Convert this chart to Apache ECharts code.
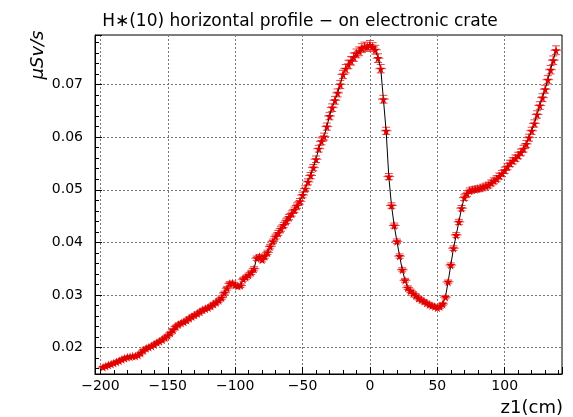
<!DOCTYPE html>
<html>
<head>
<meta charset="utf-8">
<script src="https://cdn.jsdelivr.net/npm/echarts@6/dist/echarts.min.js"></script>
<style>
  html, body { margin: 0; padding: 0; background: #fff; }
  #main { width: 573px; height: 417px; }
</style>
</head>
<body>
<div id="main"></div>
<script>
// z1 position (cm)
var zPos = [
  -198, -196, -194, -192, -190, -188, -186, -184, -182, -180,
  -178, -176, -174, -172, -170, -168, -166, -164, -162, -160,
  -158, -156, -154, -152, -150, -148, -146, -144, -142, -140,
  -138, -136, -134, -132, -130, -128, -126, -124, -122, -120,
  -118, -116, -114, -112, -110, -108, -106, -104, -102, -100,
  -98, -96, -94, -92, -90, -88, -86, -84, -82, -80,
  -78, -76, -74, -72, -70, -68, -66, -64, -62, -60,
  -58, -56, -54, -52, -50, -48, -46, -44, -42, -40,
  -38, -36, -34, -32, -30, -28, -26, -24, -22, -20,
  -18, -16, -14, -12, -10, -8, -6, -4, -2, 0,
  2, 4, 6, 8, 10, 12, 14, 16, 18, 20,
  22, 24, 26, 28, 30, 32, 34, 36, 38, 40,
  42, 44, 46, 48, 50, 52, 54, 56, 58, 60,
  62, 64, 66, 68, 70, 72, 74, 76, 78, 80,
  82, 84, 86, 88, 90, 92, 94, 96, 98, 100,
  102, 104, 106, 108, 110, 112, 114, 116, 118, 120,
  122, 124, 126, 128, 130, 132, 134, 136, 138
];

// H*(10) dose rate (uSv/s)
var doseRate = [
  0.0163, 0.0165, 0.0167, 0.0169, 0.0171, 0.0173, 0.0175, 0.0178, 0.0180, 0.0182,
  0.0183, 0.0184, 0.0184, 0.0186, 0.0190, 0.0195, 0.0199, 0.0201, 0.0203, 0.0206,
  0.0210, 0.0212, 0.0215, 0.0219, 0.0223, 0.0228, 0.0234, 0.0240, 0.0244, 0.0247,
  0.0249, 0.0252, 0.0256, 0.0259, 0.0262, 0.0265, 0.0268, 0.0272, 0.0274, 0.0276,
  0.0279, 0.0283, 0.0286, 0.0290, 0.0295, 0.0304, 0.0313, 0.0322, 0.0323, 0.0319,
  0.0317, 0.0318, 0.0330, 0.0334, 0.0338, 0.0343, 0.0350, 0.0370, 0.0373, 0.0367,
  0.0374, 0.0381, 0.0392, 0.0402, 0.0411, 0.0418, 0.0426, 0.0433, 0.0441, 0.0448,
  0.0455, 0.0462, 0.0470, 0.0478, 0.0490, 0.0502, 0.0515, 0.0527, 0.0542, 0.0558,
  0.0578, 0.0592, 0.0601, 0.0620, 0.0640, 0.0656, 0.0670, 0.0684, 0.0700, 0.0719,
  0.0730, 0.0738, 0.0745, 0.0752, 0.0759, 0.0763, 0.0769, 0.0772, 0.0771, 0.0775,
  0.0771, 0.0766, 0.0750, 0.0730, 0.0672, 0.0612, 0.0525, 0.0470, 0.0432, 0.0402,
  0.0374, 0.0348, 0.0328, 0.0314, 0.0308, 0.0303, 0.0299, 0.0294, 0.0291, 0.0288,
  0.0285, 0.0282, 0.0280, 0.0278, 0.0276, 0.0278, 0.0283, 0.0296, 0.0325, 0.0357,
  0.0389, 0.0414, 0.0439, 0.0465, 0.0485, 0.0493, 0.0498, 0.0500, 0.0501, 0.0502,
  0.0503, 0.0505, 0.0507, 0.0509, 0.0513, 0.0517, 0.0521, 0.0526, 0.0531, 0.0537,
  0.0544, 0.0550, 0.0555, 0.0560, 0.0565, 0.0571, 0.0578, 0.0587, 0.0599, 0.0612,
  0.0626, 0.0643, 0.0660, 0.0675, 0.0691, 0.0709, 0.0728, 0.0746, 0.0765
];

// errors: half width of the z bin, relative error on the dose
var zErr = 4;
var doseRelErr = 0.011;

var chart = echarts.init(document.getElementById('main'));

var pts = [];
var errPts = [];
for (var i = 0; i < zPos.length; i++) {
  pts.push([zPos[i], doseRate[i]]);
  errPts.push([zPos[i], doseRate[i], zErr, doseRate[i] * doseRelErr]);
}

var starPath = 'path://M50,0 L61,35 L98,35 L68,57 L79,91 L50,70 L21,91 L32,57 L2,35 L39,35 Z';

// error bars like root draws them (with caps)
function renderErr(params, api) {
  var x = api.value(0), y = api.value(1), ex = api.value(2), ey = api.value(3);
  var c = api.coord([x, y]);
  var l = api.coord([x - ex, y]);
  var r = api.coord([x + ex, y]);
  var t = api.coord([x, y + ey]);
  var b = api.coord([x, y - ey]);
  var cap = 4;
  var st = { stroke: '#e84848', lineWidth: 1 };
  return {
    type: 'group',
    children: [
      { type: 'line', shape: { x1: l[0], y1: c[1], x2: r[0], y2: c[1] }, style: st },
      { type: 'line', shape: { x1: c[0], y1: t[1], x2: c[0], y2: b[1] }, style: st },
      { type: 'line', shape: { x1: c[0] - cap, y1: t[1], x2: c[0] + cap, y2: t[1] }, style: st },
      { type: 'line', shape: { x1: c[0] - cap, y1: b[1], x2: c[0] + cap, y2: b[1] }, style: st }
    ]
  };
}

var font = 'DejaVu Sans';

var option = {
  animation: false,
  backgroundColor: '#fff',
  title: {
    text: 'H\u2217(10) horizontal profile \u2212 on electronic crate',
    left: 295,
    top: 8,
    textAlign: 'center',
    textStyle: { fontFamily: font, fontSize: 17, fontWeight: 'normal', color: '#000' }
  },
  grid: {
    left: 95, top: 35, width: 467, height: 339,
    show: true, borderColor: '#000', borderWidth: 1, backgroundColor: '#fff'
  },
  xAxis: {
    type: 'value',
    min: -204,
    max: 142.5,
    splitNumber: 7,
    axisLine: { onZero: false, lineStyle: { color: '#000', width: 1 } },
    axisTick: { inside: true, length: 7, lineStyle: { color: '#000' } },
    minorTick: { show: true, splitNumber: 5, length: 4, lineStyle: { color: '#000' } },
    splitLine: { show: true, lineStyle: { color: '#777', type: [2, 2], width: 1 } },
    axisLabel: {
      showMinLabel: false, showMaxLabel: false, margin: 5,
      fontFamily: font, fontSize: 14, color: '#000',
      formatter: function (v) { return v < 0 ? '\u2212' + (-v) : '' + v; }
    }
  },
  yAxis: {
    type: 'value',
    min: 0.015,
    max: 0.0794,
    splitNumber: 6,
    axisLine: { show: true, onZero: false, lineStyle: { color: '#000', width: 1 } },
    axisTick: { show: true, inside: true, length: 7, lineStyle: { color: '#000' } },
    minorTick: { show: true, splitNumber: 5, length: 4, lineStyle: { color: '#000' } },
    splitLine: { show: true, lineStyle: { color: '#777', type: [2, 2], width: 1 } },
    axisLabel: {
      showMinLabel: false, showMaxLabel: false, margin: 12,
      fontFamily: font, fontSize: 14, color: '#000',
      formatter: function (v) { return v.toFixed(2); }
    }
  },
  graphic: [
    {
      type: 'text', x: 38, y: 55, rotation: Math.PI / 2,
      style: { text: '\u03bcSv/s', font: 'italic 18px "DejaVu Sans"', fill: '#000', textAlign: 'center', textVerticalAlign: 'middle' }
    },
    {
      type: 'text', x: 563, y: 408,
      style: { text: 'z1(cm)', font: '18px "DejaVu Sans"', fill: '#000', textAlign: 'right', textVerticalAlign: 'middle' }
    }
  ],
  series: [
    {
      type: 'custom',
      renderItem: renderErr,
      data: errPts,
      encode: { x: 0, y: 1 },
      clip: true,
      z: 2
    },
    {
      type: 'line',
      data: pts,
      symbol: starPath,
      symbolSize: 9,
      showAllSymbol: true,
      itemStyle: { color: '#e00000', borderWidth: 0 },
      lineStyle: { color: '#000', width: 1 },
      clip: true,
      z: 3
    }
  ]
};

chart.setOption(option);
</script>
</body>
</html>
